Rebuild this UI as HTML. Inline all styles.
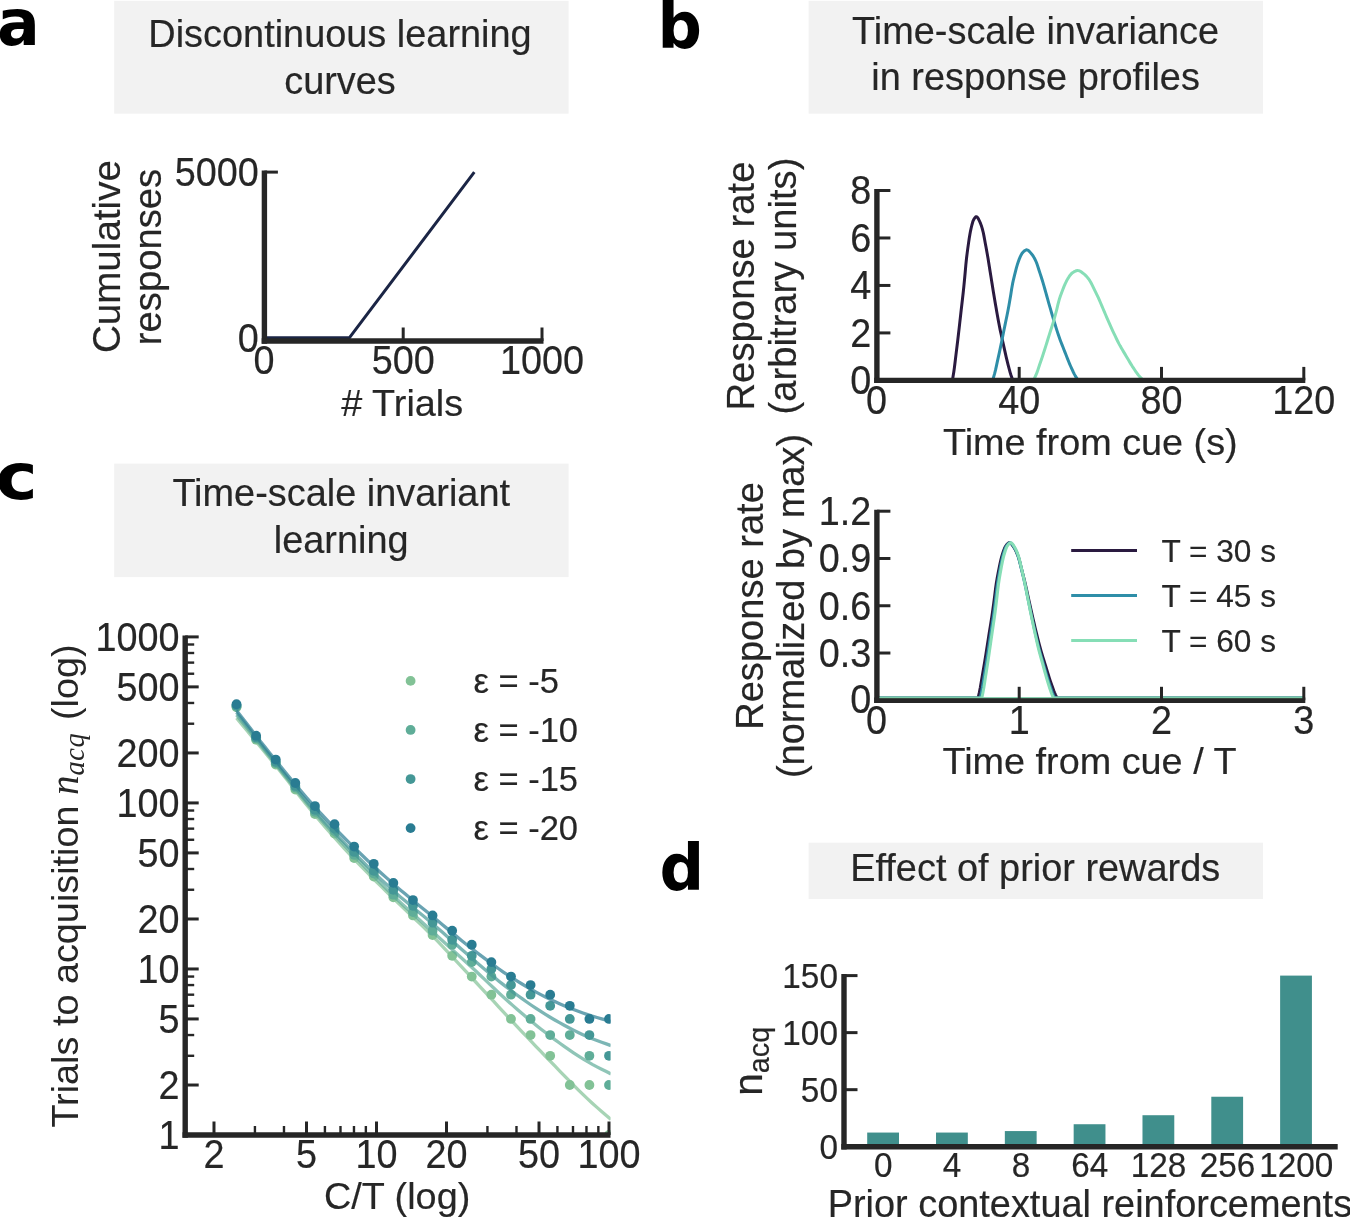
<!DOCTYPE html>
<html lang="en"><head><meta charset="utf-8"><title>Figure</title>
<style>html,body{margin:0;padding:0;background:#fff;}body{width:1350px;height:1218px;overflow:hidden;font-family:"Liberation Sans",sans-serif;}svg{display:block;font-family:"Liberation Sans",sans-serif;will-change:transform;}svg text{font-family:"Liberation Sans",sans-serif;}</style></head><body>
<svg width="1350" height="1218" viewBox="0 0 1350 1218">
<rect x="0" y="0" width="1350" height="1218" fill="#ffffff"/>
<text transform="translate(-2.9,45.2) scale(1,1.012)" font-size="63.5" font-weight="bold" text-anchor="start" fill="#000" style='font-family:"DejaVu Sans","Liberation Sans",sans-serif;'>a</text>
<text transform="translate(657.4,48.3) scale(1,1.023)" font-size="62.1" font-weight="bold" text-anchor="start" fill="#000" style='font-family:"DejaVu Sans","Liberation Sans",sans-serif;'>b</text>
<text transform="translate(-4.6,499.1) scale(1.115,1)" font-size="63.8" font-weight="bold" text-anchor="start" fill="#000" style='font-family:"DejaVu Sans","Liberation Sans",sans-serif;'>c</text>
<text transform="translate(659.5,890.1) scale(1,1.018)" font-size="62.4" font-weight="bold" text-anchor="start" fill="#000" style='font-family:"DejaVu Sans","Liberation Sans",sans-serif;'>d</text>
<rect x="114.2" y="0.8" width="454.4" height="112.9" fill="#f2f2f2"/>
<text x="340" y="46.7" font-size="37.9" text-anchor="middle" fill="#262626" stroke="#262626" stroke-width="0.18">Discontinuous learning</text>
<text x="340" y="93.8" font-size="37.9" text-anchor="middle" fill="#262626" stroke="#262626" stroke-width="0.18">curves</text>
<rect x="808.6" y="0.8" width="454.4" height="112.9" fill="#f2f2f2"/>
<text x="1035.6" y="43.5" font-size="37.9" text-anchor="middle" fill="#262626" stroke="#262626" stroke-width="0.18">Time-scale invariance</text>
<text x="1035.6" y="89.5" font-size="37.9" text-anchor="middle" fill="#262626" stroke="#262626" stroke-width="0.18">in response profiles</text>
<rect x="114.2" y="463.6" width="454.4" height="113.5" fill="#f2f2f2"/>
<text x="341.2" y="506.4" font-size="37.9" text-anchor="middle" fill="#262626" stroke="#262626" stroke-width="0.18">Time-scale invariant</text>
<text x="341.2" y="553" font-size="37.9" text-anchor="middle" fill="#262626" stroke="#262626" stroke-width="0.18">learning</text>
<rect x="808.6" y="842.7" width="454.4" height="56.3" fill="#f2f2f2"/>
<text x="1035.2" y="880.8" font-size="37.9" text-anchor="middle" fill="#262626" stroke="#262626" stroke-width="0.18">Effect of prior rewards</text>
<path d="M264.4,337.7 L349.5,337.7 L474.3,172.1" fill="none" stroke="#1b2545" stroke-width="3" stroke-linejoin="round" stroke-linecap="butt" stroke-linejoin="miter"/>
<line x1="264.4" y1="170.6" x2="264.4" y2="343.7" stroke="#262626" stroke-width="5.4" stroke-linecap="butt"/>
<line x1="261.7" y1="341" x2="543.5" y2="341" stroke="#262626" stroke-width="5.4" stroke-linecap="butt"/>
<line x1="264.4" y1="172.1" x2="277.9" y2="172.1" stroke="#262626" stroke-width="3" stroke-linecap="butt"/>
<text transform="translate(258.8,186.01) scale(1,1.07)" font-size="37.8" text-anchor="end" fill="#262626" stroke="#262626" stroke-width="0.18">5000</text>
<text transform="translate(258.8,352.21) scale(1,1.07)" font-size="37.8" text-anchor="end" fill="#262626" stroke="#262626" stroke-width="0.18">0</text>
<text transform="translate(264.1,374.3) scale(1,1.07)" font-size="37.8" text-anchor="middle" fill="#262626" stroke="#262626" stroke-width="0.18">0</text>
<line x1="403.2" y1="341" x2="403.2" y2="327.5" stroke="#262626" stroke-width="3" stroke-linecap="butt"/>
<text transform="translate(403.2,374.3) scale(1,1.07)" font-size="37.8" text-anchor="middle" fill="#262626" stroke="#262626" stroke-width="0.18">500</text>
<line x1="542" y1="341" x2="542" y2="327.5" stroke="#262626" stroke-width="3" stroke-linecap="butt"/>
<text transform="translate(542,374.3) scale(1,1.07)" font-size="37.8" text-anchor="middle" fill="#262626" stroke="#262626" stroke-width="0.18">1000</text>
<text x="402.2" y="415.6" font-size="37.8" text-anchor="middle" fill="#262626" stroke="#262626" stroke-width="0.18"># Trials</text>
<text transform="translate(119.9,256.6) rotate(-90)" font-size="38.6" text-anchor="middle" fill="#262626" stroke="#262626" stroke-width="0.18">Cumulative</text>
<text transform="translate(160.5,257) rotate(-90)" font-size="38.25" text-anchor="middle" fill="#262626" stroke="#262626" stroke-width="0.18">responses</text>
<clipPath id="clipB1"><rect x="876.9" y="185.5" width="428.9" height="194.9"/></clipPath>
<g clip-path="url(#clipB1)">
<path d="M952.41,380.4 L953.08,376.32 L953.75,372.17 L954.42,367.44 L955.1,361.99 L955.77,356.35 L956.44,350.93 L957.11,345.54 L957.78,340.01 L958.45,334.23 L959.13,328.32 L959.8,322.4 L960.47,316.47 L961.14,310.54 L961.81,304.71 L962.48,298.99 L963.16,293.04 L963.83,286.58 L964.5,279.73 L965.17,272.5 L965.84,264.8 L966.52,258.26 L967.19,252.83 L967.86,247.9 L968.53,243.09 L969.2,238.51 L969.87,234.5 L970.55,230.85 L971.22,227.77 L971.89,225.01 L972.56,222.53 L973.23,220.58 L973.9,219.29 L974.58,218.19 L975.25,217.29 L975.92,216.73 L976.59,216.65 L977.26,217.13 L977.94,218.07 L978.61,219.31 L979.28,220.7 L979.95,222.09 L980.62,223.66 L981.29,225.53 L981.97,227.66 L982.64,230.03 L983.31,232.74 L983.98,236.08 L984.65,239.78 L985.32,243.49 L986,247.07 L986.67,250.7 L987.34,254.43 L988.01,258.31 L988.68,262.41 L989.36,266.65 L990.03,270.91 L990.7,275.12 L991.37,279.36 L992.04,283.59 L992.71,287.78 L993.39,291.91 L994.06,295.97 L994.73,300 L995.4,303.96 L996.07,307.86 L996.75,311.69 L997.42,315.48 L998.09,319.21 L998.76,322.83 L999.43,326.29 L1000.1,329.58 L1000.78,332.72 L1001.45,335.76 L1002.12,338.75 L1002.79,341.74 L1003.46,344.76 L1004.13,347.82 L1004.81,350.88 L1005.48,353.91 L1006.15,356.85 L1006.82,359.68 L1007.49,362.41 L1008.17,365.1 L1008.84,367.72 L1009.51,370.22 L1010.18,372.57 L1010.85,374.74 L1011.52,376.69 L1012.2,378.54 L1012.87,380.4" fill="none" stroke="#2a1a40" stroke-width="3" stroke-linejoin="round" stroke-linecap="butt"/>
<path d="M992.64,380.4 L993.59,377.17 L994.54,373.88 L995.49,370.15 L996.44,365.84 L997.39,361.37 L998.34,357.07 L999.29,352.81 L1000.24,348.44 L1001.19,343.87 L1002.14,339.19 L1003.09,334.51 L1004.04,329.81 L1004.99,325.11 L1005.94,320.48 L1006.89,315.96 L1007.84,311.27 L1008.79,306.2 L1009.74,300.8 L1010.69,295.14 L1011.64,289.02 L1012.59,283.68 L1013.54,279.3 L1014.49,275.36 L1015.44,271.55 L1016.39,267.85 L1017.34,264.62 L1018.29,261.68 L1019.24,259.15 L1020.19,256.94 L1021.14,254.92 L1022.09,253.27 L1023.04,252.17 L1023.99,251.28 L1024.94,250.52 L1025.89,250.01 L1026.84,249.85 L1027.79,250.14 L1028.74,250.82 L1029.69,251.76 L1030.64,252.86 L1031.59,253.98 L1032.54,255.19 L1033.49,256.63 L1034.44,258.3 L1035.39,260.16 L1036.34,262.25 L1037.29,264.84 L1038.24,267.77 L1039.19,270.76 L1040.14,273.63 L1041.09,276.52 L1042.04,279.49 L1042.99,282.58 L1043.94,285.84 L1044.89,289.22 L1045.84,292.64 L1046.78,296.01 L1047.73,299.39 L1048.68,302.78 L1049.63,306.15 L1050.58,309.46 L1051.53,312.71 L1052.48,315.94 L1053.43,319.12 L1054.38,322.25 L1055.33,325.31 L1056.28,328.35 L1057.23,331.34 L1058.18,334.25 L1059.13,337.04 L1060.08,339.68 L1061.03,342.2 L1061.98,344.64 L1062.93,347.04 L1063.88,349.43 L1064.83,351.84 L1065.78,354.29 L1066.73,356.75 L1067.68,359.17 L1068.63,361.53 L1069.58,363.8 L1070.53,365.99 L1071.48,368.14 L1072.43,370.24 L1073.38,372.24 L1074.33,374.13 L1075.28,375.87 L1076.23,377.43 L1077.18,378.91 L1078.13,380.4" fill="none" stroke="#2e8ea8" stroke-width="3" stroke-linejoin="round" stroke-linecap="butt"/>
<path d="M1033.57,380.4 L1034.79,377.71 L1036.01,374.97 L1037.23,371.87 L1038.45,368.29 L1039.67,364.56 L1040.89,360.97 L1042.11,357.41 L1043.32,353.78 L1044.54,349.99 L1045.76,346.09 L1046.98,342.18 L1048.2,338.27 L1049.42,334.35 L1050.64,330.47 L1051.86,326.7 L1053.08,322.83 L1054.3,318.65 L1055.51,314.19 L1056.73,309.54 L1057.95,304.45 L1059.17,299.78 L1060.39,296.03 L1061.61,292.69 L1062.83,289.51 L1064.05,286.37 L1065.27,283.59 L1066.49,281.07 L1067.71,278.85 L1068.92,276.98 L1070.14,275.23 L1071.36,273.75 L1072.58,272.7 L1073.8,271.93 L1075.02,271.26 L1076.24,270.75 L1077.46,270.51 L1078.68,270.62 L1079.9,271.09 L1081.11,271.83 L1082.33,272.73 L1083.55,273.68 L1084.77,274.66 L1085.99,275.82 L1087.21,277.18 L1088.43,278.71 L1089.65,280.4 L1090.87,282.48 L1092.09,284.91 L1093.31,287.45 L1094.52,289.9 L1095.74,292.34 L1096.96,294.84 L1098.18,297.42 L1099.4,300.15 L1100.62,303 L1101.84,305.89 L1103.06,308.75 L1104.28,311.62 L1105.5,314.49 L1106.71,317.35 L1107.93,320.16 L1109.15,322.93 L1110.37,325.67 L1111.59,328.37 L1112.81,331.03 L1114.03,333.63 L1115.25,336.21 L1116.47,338.75 L1117.69,341.23 L1118.9,343.6 L1120.12,345.86 L1121.34,348 L1122.56,350.08 L1123.78,352.11 L1125,354.13 L1126.22,356.18 L1127.44,358.25 L1128.66,360.33 L1129.88,362.38 L1131.1,364.39 L1132.31,366.32 L1133.53,368.17 L1134.75,370 L1135.97,371.78 L1137.19,373.48 L1138.41,375.08 L1139.63,376.56 L1140.85,377.88 L1142.07,379.14 L1143.29,380.4" fill="none" stroke="#86deb6" stroke-width="3" stroke-linejoin="round" stroke-linecap="butt"/>
</g>
<line x1="876.9" y1="189" x2="876.9" y2="383.1" stroke="#262626" stroke-width="5.4" stroke-linecap="butt"/>
<line x1="874.2" y1="380.4" x2="1305.3" y2="380.4" stroke="#262626" stroke-width="5.4" stroke-linecap="butt"/>
<line x1="876.9" y1="332.92" x2="890.4" y2="332.92" stroke="#262626" stroke-width="3" stroke-linecap="butt"/>
<text transform="translate(871.3,346.84) scale(1,1.07)" font-size="37.8" text-anchor="end" fill="#262626" stroke="#262626" stroke-width="0.18">2</text>
<line x1="876.9" y1="285.45" x2="890.4" y2="285.45" stroke="#262626" stroke-width="3" stroke-linecap="butt"/>
<text transform="translate(871.3,299.36) scale(1,1.07)" font-size="37.8" text-anchor="end" fill="#262626" stroke="#262626" stroke-width="0.18">4</text>
<line x1="876.9" y1="237.97" x2="890.4" y2="237.97" stroke="#262626" stroke-width="3" stroke-linecap="butt"/>
<text transform="translate(871.3,251.89) scale(1,1.07)" font-size="37.8" text-anchor="end" fill="#262626" stroke="#262626" stroke-width="0.18">6</text>
<line x1="876.9" y1="190.5" x2="890.4" y2="190.5" stroke="#262626" stroke-width="3" stroke-linecap="butt"/>
<text transform="translate(871.3,204.41) scale(1,1.07)" font-size="37.8" text-anchor="end" fill="#262626" stroke="#262626" stroke-width="0.18">8</text>
<text transform="translate(871.3,393.91) scale(1,1.07)" font-size="37.8" text-anchor="end" fill="#262626" stroke="#262626" stroke-width="0.18">0</text>
<line x1="1019.2" y1="380.4" x2="1019.2" y2="366.9" stroke="#262626" stroke-width="3" stroke-linecap="butt"/>
<text transform="translate(1019.2,413.7) scale(1,1.07)" font-size="37.8" text-anchor="middle" fill="#262626" stroke="#262626" stroke-width="0.18">40</text>
<line x1="1161.5" y1="380.4" x2="1161.5" y2="366.9" stroke="#262626" stroke-width="3" stroke-linecap="butt"/>
<text transform="translate(1161.5,413.7) scale(1,1.07)" font-size="37.8" text-anchor="middle" fill="#262626" stroke="#262626" stroke-width="0.18">80</text>
<line x1="1303.8" y1="380.4" x2="1303.8" y2="366.9" stroke="#262626" stroke-width="3" stroke-linecap="butt"/>
<text transform="translate(1303.8,413.7) scale(1,1.07)" font-size="37.8" text-anchor="middle" fill="#262626" stroke="#262626" stroke-width="0.18">120</text>
<text transform="translate(876.6,413.7) scale(1,1.07)" font-size="37.8" text-anchor="middle" fill="#262626" stroke="#262626" stroke-width="0.18">0</text>
<text x="1090.35" y="454.7" font-size="37.8" text-anchor="middle" fill="#262626" stroke="#262626" stroke-width="0.18">Time from cue (s)</text>
<text transform="translate(754,286) rotate(-90)" font-size="38.3" text-anchor="middle" fill="#262626" stroke="#262626" stroke-width="0.18">Response rate</text>
<text transform="translate(795.5,286) rotate(-90)" font-size="38.2" text-anchor="middle" fill="#262626" stroke="#262626" stroke-width="0.18">(arbitrary units)</text>
<clipPath id="clipB2"><rect x="876.9" y="506.2" width="428.9" height="194.1"/></clipPath>
<g clip-path="url(#clipB2)">
<path d="M876.9,698.1 L976.58,698.1 L977.58,698.1 L978.47,696.38 L979.37,692.38 L980.26,687.83 L981.16,682.59 L982.06,677.16 L982.95,671.94 L983.85,666.76 L984.74,661.44 L985.64,655.88 L986.53,650.19 L987.43,644.5 L988.33,638.79 L989.22,633.09 L990.12,627.48 L991.01,621.98 L991.91,616.25 L992.8,610.03 L993.7,603.44 L994.6,596.49 L995.49,589.08 L996.39,582.78 L997.28,577.56 L998.18,572.82 L999.07,568.2 L999.97,563.78 L1000.87,559.93 L1001.76,556.42 L1002.66,553.45 L1003.55,550.8 L1004.45,548.41 L1005.34,546.53 L1006.24,545.3 L1007.14,544.23 L1008.03,543.37 L1008.93,542.83 L1009.82,542.75 L1010.72,543.22 L1011.61,544.12 L1012.51,545.31 L1013.41,546.65 L1014.3,547.99 L1015.2,549.5 L1016.09,551.3 L1016.99,553.35 L1017.88,555.63 L1018.78,558.23 L1019.68,561.45 L1020.57,565.01 L1021.47,568.58 L1022.36,572.02 L1023.26,575.51 L1024.15,579.1 L1025.05,582.84 L1025.95,586.78 L1026.84,590.86 L1027.74,594.96 L1028.63,599.01 L1029.53,603.08 L1030.42,607.16 L1031.32,611.19 L1032.21,615.16 L1033.11,619.07 L1034.01,622.94 L1034.9,626.76 L1035.8,630.51 L1036.69,634.19 L1037.59,637.84 L1038.48,641.42 L1039.38,644.91 L1040.28,648.24 L1041.17,651.4 L1042.07,654.43 L1042.96,657.35 L1043.86,660.23 L1044.75,663.1 L1045.65,666.01 L1046.55,668.95 L1047.44,671.9 L1048.34,674.81 L1049.23,677.64 L1050.13,680.37 L1051.02,683 L1051.92,685.58 L1052.82,688.1 L1053.71,690.5 L1054.61,692.77 L1055.5,694.85 L1056.4,696.73 L1057.29,698.1 L1058.19,698.1 L1059.19,698.1 L1303.8,698.1" fill="none" stroke="#2a1a40" stroke-width="3" stroke-linejoin="round" stroke-linecap="butt"/>
<path d="M876.9,698.1 L978.78,698.1 L979.78,698.1 L980.63,696.4 L981.47,692.43 L982.32,687.92 L983.16,682.73 L984,677.33 L984.85,672.14 L985.69,667 L986.54,661.72 L987.38,656.21 L988.23,650.56 L989.07,644.9 L989.91,639.24 L990.76,633.57 L991.6,627.98 L992.45,622.52 L993.29,616.86 L994.14,610.74 L994.98,604.23 L995.82,597.39 L996.67,590.01 L997.51,583.55 L998.36,578.27 L999.2,573.51 L1000.05,568.92 L1000.89,564.45 L1001.74,560.56 L1002.58,557 L1003.42,553.95 L1004.27,551.29 L1005.11,548.84 L1005.96,546.86 L1006.8,545.53 L1007.65,544.45 L1008.49,543.54 L1009.33,542.92 L1010.18,542.72 L1011.02,543.07 L1011.87,543.89 L1012.71,545.03 L1013.56,546.36 L1014.4,547.71 L1015.24,549.16 L1016.09,550.91 L1016.93,552.92 L1017.78,555.17 L1018.62,557.69 L1019.47,560.82 L1020.31,564.36 L1021.15,567.96 L1022,571.43 L1022.84,574.92 L1023.69,578.5 L1024.53,582.23 L1025.38,586.16 L1026.22,590.25 L1027.06,594.37 L1027.91,598.44 L1028.75,602.52 L1029.6,606.61 L1030.44,610.67 L1031.29,614.67 L1032.13,618.6 L1032.97,622.49 L1033.82,626.34 L1034.66,630.11 L1035.51,633.81 L1036.35,637.48 L1037.2,641.09 L1038.04,644.6 L1038.88,647.96 L1039.73,651.15 L1040.57,654.2 L1041.42,657.14 L1042.26,660.03 L1043.11,662.92 L1043.95,665.83 L1044.8,668.79 L1045.64,671.75 L1046.48,674.67 L1047.33,677.52 L1048.17,680.26 L1049.02,682.91 L1049.86,685.51 L1050.71,688.03 L1051.55,690.45 L1052.39,692.73 L1053.24,694.83 L1054.08,696.72 L1054.93,698.1 L1055.77,698.1 L1056.77,698.1 L1303.8,698.1" fill="none" stroke="#2e8ea8" stroke-width="3" stroke-linejoin="round" stroke-linecap="butt"/>
<path d="M876.9,698.1 L980.35,698.1 L981.35,698.1 L982.16,696.44 L982.97,692.51 L983.79,688.06 L984.6,682.93 L985.41,677.59 L986.22,672.44 L987.04,667.34 L987.85,662.13 L988.66,656.69 L989.48,651.1 L990.29,645.5 L991.1,639.89 L991.91,634.27 L992.73,628.72 L993.54,623.3 L994.35,617.75 L995.16,611.76 L995.98,605.36 L996.79,598.69 L997.6,591.4 L998.41,584.71 L999.23,579.32 L1000.04,574.53 L1000.85,569.98 L1001.67,565.47 L1002.48,561.5 L1003.29,557.88 L1004.1,554.7 L1004.92,552.01 L1005.73,549.51 L1006.54,547.38 L1007.35,545.87 L1008.17,544.78 L1008.98,543.81 L1009.79,543.08 L1010.61,542.73 L1011.42,542.89 L1012.23,543.57 L1013.04,544.63 L1013.86,545.92 L1014.67,547.29 L1015.48,548.68 L1016.29,550.35 L1017.11,552.3 L1017.92,554.5 L1018.73,556.92 L1019.54,559.9 L1020.36,563.38 L1021.17,567.02 L1021.98,570.53 L1022.8,574.04 L1023.61,577.62 L1024.42,581.33 L1025.23,585.23 L1026.05,589.32 L1026.86,593.47 L1027.67,597.57 L1028.48,601.68 L1029.3,605.8 L1030.11,609.89 L1030.92,613.93 L1031.74,617.89 L1032.55,621.82 L1033.36,625.7 L1034.17,629.51 L1034.99,633.24 L1035.8,636.94 L1036.61,640.58 L1037.42,644.13 L1038.24,647.54 L1039.05,650.77 L1039.86,653.85 L1040.67,656.82 L1041.49,659.74 L1042.3,662.64 L1043.11,665.57 L1043.93,668.54 L1044.74,671.52 L1045.55,674.47 L1046.36,677.34 L1047.18,680.11 L1047.99,682.77 L1048.8,685.39 L1049.61,687.94 L1050.43,690.38 L1051.24,692.67 L1052.05,694.79 L1052.87,696.69 L1053.68,698.1 L1054.49,698.1 L1055.49,698.1 L1303.8,698.1" fill="none" stroke="#86deb6" stroke-width="3" stroke-linejoin="round" stroke-linecap="butt"/>
</g>
<line x1="876.9" y1="509.7" x2="876.9" y2="703" stroke="#262626" stroke-width="5.4" stroke-linecap="butt"/>
<line x1="874.2" y1="700.3" x2="1305.3" y2="700.3" stroke="#262626" stroke-width="5.4" stroke-linecap="butt"/>
<line x1="879.5" y1="697.7" x2="1304.8" y2="697.7" stroke="#86deb6" stroke-width="1" stroke-linecap="butt"/>
<line x1="876.9" y1="653.02" x2="890.4" y2="653.02" stroke="#262626" stroke-width="3" stroke-linecap="butt"/>
<text transform="translate(871.3,666.94) scale(1,1.07)" font-size="37.8" text-anchor="end" fill="#262626" stroke="#262626" stroke-width="0.18">0.3</text>
<line x1="876.9" y1="605.75" x2="890.4" y2="605.75" stroke="#262626" stroke-width="3" stroke-linecap="butt"/>
<text transform="translate(871.3,619.66) scale(1,1.07)" font-size="37.8" text-anchor="end" fill="#262626" stroke="#262626" stroke-width="0.18">0.6</text>
<line x1="876.9" y1="558.47" x2="890.4" y2="558.47" stroke="#262626" stroke-width="3" stroke-linecap="butt"/>
<text transform="translate(871.3,572.39) scale(1,1.07)" font-size="37.8" text-anchor="end" fill="#262626" stroke="#262626" stroke-width="0.18">0.9</text>
<line x1="876.9" y1="511.2" x2="890.4" y2="511.2" stroke="#262626" stroke-width="3" stroke-linecap="butt"/>
<text transform="translate(871.3,525.11) scale(1,1.07)" font-size="37.8" text-anchor="end" fill="#262626" stroke="#262626" stroke-width="0.18">1.2</text>
<text transform="translate(871.3,713.01) scale(1,1.07)" font-size="37.8" text-anchor="end" fill="#262626" stroke="#262626" stroke-width="0.18">0</text>
<line x1="1019.2" y1="700.3" x2="1019.2" y2="686.8" stroke="#262626" stroke-width="3" stroke-linecap="butt"/>
<text transform="translate(1019.2,733.6) scale(1,1.07)" font-size="37.8" text-anchor="middle" fill="#262626" stroke="#262626" stroke-width="0.18">1</text>
<line x1="1161.5" y1="700.3" x2="1161.5" y2="686.8" stroke="#262626" stroke-width="3" stroke-linecap="butt"/>
<text transform="translate(1161.5,733.6) scale(1,1.07)" font-size="37.8" text-anchor="middle" fill="#262626" stroke="#262626" stroke-width="0.18">2</text>
<line x1="1303.8" y1="700.3" x2="1303.8" y2="686.8" stroke="#262626" stroke-width="3" stroke-linecap="butt"/>
<text transform="translate(1303.8,733.6) scale(1,1.07)" font-size="37.8" text-anchor="middle" fill="#262626" stroke="#262626" stroke-width="0.18">3</text>
<text transform="translate(876.6,733.6) scale(1,1.07)" font-size="37.8" text-anchor="middle" fill="#262626" stroke="#262626" stroke-width="0.18">0</text>
<text x="1089.55" y="774.3" font-size="37.8" text-anchor="middle" fill="#262626" stroke="#262626" stroke-width="0.18">Time from cue / T</text>
<text transform="translate(762.5,606) rotate(-90)" font-size="38.1" text-anchor="middle" fill="#262626" stroke="#262626" stroke-width="0.18">Response rate</text>
<text transform="translate(804.2,606) rotate(-90)" font-size="38" text-anchor="middle" fill="#262626" stroke="#262626" stroke-width="0.18">(normalized by max)</text>
<line x1="1071.2" y1="550.4" x2="1137" y2="550.4" stroke="#2a1a40" stroke-width="3" stroke-linecap="butt"/>
<text x="1161.5" y="561.9" font-size="31.6" text-anchor="start" fill="#262626" stroke="#262626" stroke-width="0.18">T = 30 s</text>
<line x1="1071.2" y1="595.4" x2="1137" y2="595.4" stroke="#2e8ea8" stroke-width="3" stroke-linecap="butt"/>
<text x="1161.5" y="606.9" font-size="31.6" text-anchor="start" fill="#262626" stroke="#262626" stroke-width="0.18">T = 45 s</text>
<line x1="1071.2" y1="640.4" x2="1137" y2="640.4" stroke="#86deb6" stroke-width="3" stroke-linecap="butt"/>
<text x="1161.5" y="651.9" font-size="31.6" text-anchor="start" fill="#262626" stroke="#262626" stroke-width="0.18">T = 60 s</text>
<clipPath id="clipC"><rect x="185.2" y="630.9" width="425.4" height="504.1"/></clipPath>
<g clip-path="url(#clipC)">
<path d="M236.52,718 L241.2,723.67 L245.88,729.31 L250.56,734.96 L255.24,740.6 L259.93,746.25 L264.61,751.93 L269.29,757.63 L273.97,763.38 L278.65,769.19 L283.33,775.11 L288.01,781.1 L292.69,787.13 L297.37,793.15 L302.05,799.13 L306.74,805.02 L311.42,810.79 L316.1,816.4 L320.78,821.91 L325.46,827.35 L330.14,832.71 L334.82,838 L339.5,843.21 L344.18,848.36 L348.86,853.43 L353.55,858.43 L358.23,863.35 L362.91,868.18 L367.59,872.93 L372.27,877.61 L376.95,882.25 L381.63,886.86 L386.31,891.45 L390.99,896.03 L395.67,900.61 L400.36,905.13 L405.04,909.58 L409.72,914.01 L414.4,918.43 L419.08,922.88 L423.76,927.38 L428.44,931.96 L433.12,936.64 L437.8,941.44 L442.48,946.32 L447.17,951.28 L451.85,956.29 L456.53,961.33 L461.21,966.39 L465.89,971.45 L470.57,976.48 L475.25,981.5 L479.93,986.54 L484.61,991.6 L489.29,996.66 L493.98,1001.73 L498.66,1006.79 L503.34,1011.83 L508.02,1016.84 L512.7,1021.83 L517.38,1026.8 L522.06,1031.76 L526.74,1036.71 L531.42,1041.65 L536.1,1046.56 L540.79,1051.45 L545.47,1056.31 L550.15,1061.13 L554.83,1065.95 L559.51,1070.78 L564.19,1075.61 L568.87,1080.4 L573.55,1085.14 L578.23,1089.82 L582.91,1094.4 L587.6,1098.88 L592.28,1103.21 L596.96,1107.38 L601.64,1111.45 L606.32,1115.49 L611,1119.56" fill="none" stroke="#82c296" stroke-width="3.3" stroke-linejoin="round" stroke-linecap="butt" stroke-opacity="0.7"/>
<g fill="#82c296"><circle cx="236.52" cy="707.24" r="4.9"/><circle cx="256.13" cy="739.72" r="4.9"/><circle cx="275.73" cy="764.55" r="4.9"/><circle cx="295.33" cy="789.52" r="4.9"/><circle cx="314.94" cy="814.03" r="4.9"/><circle cx="334.54" cy="833.66" r="4.9"/><circle cx="354.15" cy="858.07" r="4.9"/><circle cx="373.75" cy="876.6" r="4.9"/><circle cx="393.35" cy="897.35" r="4.9"/><circle cx="412.96" cy="915.47" r="4.9"/><circle cx="432.56" cy="935.08" r="4.9"/><circle cx="452.17" cy="955.82" r="4.9"/><circle cx="471.77" cy="976.56" r="4.9"/><circle cx="491.38" cy="994.69" r="4.9"/><circle cx="510.98" cy="1018.95" r="4.9"/><circle cx="530.58" cy="1035.04" r="4.9"/><circle cx="550.19" cy="1055.78" r="4.9"/><circle cx="569.79" cy="1085.02" r="4.9"/><circle cx="589.4" cy="1085.02" r="4.9"/><circle cx="609" cy="1135" r="4.9"/></g>
<path d="M236.52,715 L241.2,720.86 L245.88,726.72 L250.56,732.59 L255.24,738.45 L259.93,744.31 L264.61,750.17 L269.29,756.02 L273.97,761.86 L278.65,767.71 L283.33,773.61 L288.01,779.53 L292.69,785.46 L297.37,791.35 L302.05,797.19 L306.74,802.94 L311.42,808.58 L316.1,814.08 L320.78,819.45 L325.46,824.74 L330.14,829.95 L334.82,835.08 L339.5,840.16 L344.18,845.19 L348.86,850.17 L353.55,855.13 L358.23,860.07 L362.91,864.98 L367.59,869.85 L372.27,874.68 L376.95,879.45 L381.63,884.18 L386.31,888.84 L390.99,893.43 L395.67,897.95 L400.36,902.38 L405.04,906.73 L409.72,911.03 L414.4,915.28 L419.08,919.5 L423.76,923.73 L428.44,927.96 L433.12,932.22 L437.8,936.48 L442.48,940.72 L447.17,944.96 L451.85,949.19 L456.53,953.42 L461.21,957.67 L465.89,961.93 L470.57,966.22 L475.25,970.55 L479.93,974.94 L484.61,979.39 L489.29,983.84 L493.98,988.29 L498.66,992.69 L503.34,997.02 L508.02,1001.26 L512.7,1005.37 L517.38,1009.44 L522.06,1013.46 L526.74,1017.43 L531.42,1021.34 L536.1,1025.17 L540.79,1028.92 L545.47,1032.57 L550.15,1036.11 L554.83,1039.57 L559.51,1042.98 L564.19,1046.33 L568.87,1049.6 L573.55,1052.79 L578.23,1055.87 L582.91,1058.84 L587.6,1061.68 L592.28,1064.36 L596.96,1066.85 L601.64,1069.21 L606.32,1071.55 L611,1073.92" fill="none" stroke="#5fad98" stroke-width="3.3" stroke-linejoin="round" stroke-linecap="butt" stroke-opacity="0.7"/>
<g fill="#5fad98"><circle cx="236.52" cy="706.24" r="4.9"/><circle cx="256.13" cy="738.42" r="4.9"/><circle cx="275.73" cy="763.05" r="4.9"/><circle cx="295.33" cy="787.52" r="4.9"/><circle cx="314.94" cy="811.73" r="4.9"/><circle cx="334.54" cy="831.06" r="4.9"/><circle cx="354.15" cy="854.77" r="4.9"/><circle cx="373.75" cy="873.47" r="4.9"/><circle cx="393.35" cy="894.72" r="4.9"/><circle cx="412.96" cy="912.11" r="4.9"/><circle cx="432.56" cy="930.7" r="4.9"/><circle cx="452.17" cy="944.7" r="4.9"/><circle cx="471.77" cy="962.09" r="4.9"/><circle cx="491.38" cy="976.56" r="4.9"/><circle cx="510.98" cy="994.69" r="4.9"/><circle cx="530.58" cy="1018.95" r="4.9"/><circle cx="550.19" cy="1035.04" r="4.9"/><circle cx="569.79" cy="1035.04" r="4.9"/><circle cx="589.4" cy="1055.78" r="4.9"/><circle cx="609" cy="1085.02" r="4.9"/></g>
<path d="M236.52,712.5 L241.2,718.51 L245.88,724.55 L250.56,730.6 L255.24,736.64 L259.93,742.67 L264.61,748.67 L269.29,754.63 L273.97,760.55 L278.65,766.42 L283.33,772.29 L288.01,778.15 L292.69,783.99 L297.37,789.78 L302.05,795.5 L306.74,801.13 L311.42,806.65 L316.1,812.05 L320.78,817.35 L325.46,822.57 L330.14,827.71 L334.82,832.78 L339.5,837.77 L344.18,842.7 L348.86,847.56 L353.55,852.36 L358.23,857.1 L362.91,861.79 L367.59,866.43 L372.27,871.01 L376.95,875.52 L381.63,879.97 L386.31,884.33 L390.99,888.62 L395.67,892.81 L400.36,896.88 L405.04,900.85 L409.72,904.74 L414.4,908.59 L419.08,912.42 L423.76,916.28 L428.44,920.18 L433.12,924.17 L437.8,928.23 L442.48,932.35 L447.17,936.51 L451.85,940.68 L456.53,944.85 L461.21,948.99 L465.89,953.1 L470.57,957.14 L475.25,961.14 L479.93,965.15 L484.61,969.15 L489.29,973.12 L493.98,977.04 L498.66,980.9 L503.34,984.66 L508.02,988.3 L512.7,991.83 L517.38,995.28 L522.06,998.68 L526.74,1002.01 L531.42,1005.26 L536.1,1008.42 L540.79,1011.48 L545.47,1014.43 L550.15,1017.25 L554.83,1019.98 L559.51,1022.63 L564.19,1025.22 L568.87,1027.73 L573.55,1030.14 L578.23,1032.46 L582.91,1034.68 L587.6,1036.78 L592.28,1038.75 L596.96,1040.56 L601.64,1042.26 L606.32,1043.92 L611,1045.63" fill="none" stroke="#449796" stroke-width="3.3" stroke-linejoin="round" stroke-linecap="butt" stroke-opacity="0.7"/>
<g fill="#449796"><circle cx="236.52" cy="705.44" r="4.9"/><circle cx="256.13" cy="737.42" r="4.9"/><circle cx="275.73" cy="761.75" r="4.9"/><circle cx="295.33" cy="785.92" r="4.9"/><circle cx="314.94" cy="809.73" r="4.9"/><circle cx="334.54" cy="828.66" r="4.9"/><circle cx="354.15" cy="851.97" r="4.9"/><circle cx="373.75" cy="870.83" r="4.9"/><circle cx="393.35" cy="889.75" r="4.9"/><circle cx="412.96" cy="905.84" r="4.9"/><circle cx="432.56" cy="922.68" r="4.9"/><circle cx="452.17" cy="939.73" r="4.9"/><circle cx="471.77" cy="955.82" r="4.9"/><circle cx="491.38" cy="968.97" r="4.9"/><circle cx="510.98" cy="985.06" r="4.9"/><circle cx="530.58" cy="994.69" r="4.9"/><circle cx="550.19" cy="1005.8" r="4.9"/><circle cx="569.79" cy="1018.95" r="4.9"/><circle cx="589.4" cy="1035.04" r="4.9"/><circle cx="609" cy="1055.78" r="4.9"/></g>
<path d="M236.52,710.5 L241.2,716.5 L245.88,722.53 L250.56,728.58 L255.24,734.63 L259.93,740.65 L264.61,746.63 L269.29,752.54 L273.97,758.38 L278.65,764.14 L283.33,769.88 L288.01,775.58 L292.69,781.24 L297.37,786.83 L302.05,792.35 L306.74,797.78 L311.42,803.1 L316.1,808.31 L320.78,813.41 L325.46,818.42 L330.14,823.35 L334.82,828.21 L339.5,833 L344.18,837.72 L348.86,842.38 L353.55,846.98 L358.23,851.53 L362.91,856.03 L367.59,860.46 L372.27,864.84 L376.95,869.17 L381.63,873.43 L386.31,877.64 L390.99,881.8 L395.67,885.9 L400.36,889.91 L405.04,893.86 L409.72,897.75 L414.4,901.61 L419.08,905.43 L423.76,909.25 L428.44,913.08 L433.12,916.93 L437.8,920.81 L442.48,924.71 L447.17,928.62 L451.85,932.51 L456.53,936.37 L461.21,940.19 L465.89,943.94 L470.57,947.62 L475.25,951.23 L479.93,954.83 L484.61,958.41 L489.29,961.93 L493.98,965.4 L498.66,968.77 L503.34,972.04 L508.02,975.19 L512.7,978.21 L517.38,981.15 L522.06,984.02 L526.74,986.82 L531.42,989.54 L536.1,992.16 L540.79,994.67 L545.47,997.08 L550.15,999.36 L554.83,1001.54 L559.51,1003.65 L564.19,1005.69 L568.87,1007.65 L573.55,1009.53 L578.23,1011.33 L582.91,1013.04 L587.6,1014.66 L592.28,1016.17 L596.96,1017.54 L601.64,1018.82 L606.32,1020.08 L611,1021.37" fill="none" stroke="#297c92" stroke-width="3.3" stroke-linejoin="round" stroke-linecap="butt" stroke-opacity="0.7"/>
<g fill="#297c92"><circle cx="236.52" cy="704.24" r="4.9"/><circle cx="256.13" cy="735.72" r="4.9"/><circle cx="275.73" cy="759.55" r="4.9"/><circle cx="295.33" cy="783.02" r="4.9"/><circle cx="314.94" cy="806.03" r="4.9"/><circle cx="334.54" cy="824.16" r="4.9"/><circle cx="354.15" cy="846.57" r="4.9"/><circle cx="373.75" cy="863.79" r="4.9"/><circle cx="393.35" cy="882.88" r="4.9"/><circle cx="412.96" cy="900.07" r="4.9"/><circle cx="432.56" cy="915.47" r="4.9"/><circle cx="452.17" cy="930.7" r="4.9"/><circle cx="471.77" cy="944.7" r="4.9"/><circle cx="491.38" cy="962.09" r="4.9"/><circle cx="510.98" cy="976.56" r="4.9"/><circle cx="530.58" cy="985.06" r="4.9"/><circle cx="550.19" cy="994.69" r="4.9"/><circle cx="569.79" cy="1005.8" r="4.9"/><circle cx="589.4" cy="1018.95" r="4.9"/><circle cx="609" cy="1018.95" r="4.9"/></g>
</g>
<line x1="185.2" y1="635.4" x2="185.2" y2="1137.7" stroke="#262626" stroke-width="5.4" stroke-linecap="butt"/>
<line x1="182.5" y1="1135" x2="610.5" y2="1135" stroke="#262626" stroke-width="5.4" stroke-linecap="butt"/>
<text transform="translate(179.6,1148.71) scale(1,1.07)" font-size="37.8" text-anchor="end" fill="#262626" stroke="#262626" stroke-width="0.18">1</text>
<line x1="185.2" y1="1085.02" x2="198.7" y2="1085.02" stroke="#262626" stroke-width="3" stroke-linecap="butt"/>
<text transform="translate(179.6,1098.93) scale(1,1.07)" font-size="37.8" text-anchor="end" fill="#262626" stroke="#262626" stroke-width="0.18">2</text>
<line x1="185.2" y1="1055.78" x2="194.2" y2="1055.78" stroke="#262626" stroke-width="2.4" stroke-linecap="butt"/>
<line x1="185.2" y1="1035.04" x2="194.2" y2="1035.04" stroke="#262626" stroke-width="2.4" stroke-linecap="butt"/>
<line x1="185.2" y1="1018.95" x2="198.7" y2="1018.95" stroke="#262626" stroke-width="3" stroke-linecap="butt"/>
<text transform="translate(179.6,1032.86) scale(1,1.07)" font-size="37.8" text-anchor="end" fill="#262626" stroke="#262626" stroke-width="0.18">5</text>
<line x1="185.2" y1="1005.8" x2="194.2" y2="1005.8" stroke="#262626" stroke-width="2.4" stroke-linecap="butt"/>
<line x1="185.2" y1="994.69" x2="194.2" y2="994.69" stroke="#262626" stroke-width="2.4" stroke-linecap="butt"/>
<line x1="185.2" y1="985.06" x2="194.2" y2="985.06" stroke="#262626" stroke-width="2.4" stroke-linecap="butt"/>
<line x1="185.2" y1="976.56" x2="194.2" y2="976.56" stroke="#262626" stroke-width="2.4" stroke-linecap="butt"/>
<line x1="185.2" y1="968.97" x2="198.7" y2="968.97" stroke="#262626" stroke-width="3" stroke-linecap="butt"/>
<text transform="translate(179.6,982.88) scale(1,1.07)" font-size="37.8" text-anchor="end" fill="#262626" stroke="#262626" stroke-width="0.18">10</text>
<line x1="185.2" y1="918.99" x2="198.7" y2="918.99" stroke="#262626" stroke-width="3" stroke-linecap="butt"/>
<text transform="translate(179.6,932.9) scale(1,1.07)" font-size="37.8" text-anchor="end" fill="#262626" stroke="#262626" stroke-width="0.18">20</text>
<line x1="185.2" y1="889.75" x2="194.2" y2="889.75" stroke="#262626" stroke-width="2.4" stroke-linecap="butt"/>
<line x1="185.2" y1="869" x2="194.2" y2="869" stroke="#262626" stroke-width="2.4" stroke-linecap="butt"/>
<line x1="185.2" y1="852.91" x2="198.7" y2="852.91" stroke="#262626" stroke-width="3" stroke-linecap="butt"/>
<text transform="translate(179.6,866.83) scale(1,1.07)" font-size="37.8" text-anchor="end" fill="#262626" stroke="#262626" stroke-width="0.18">50</text>
<line x1="185.2" y1="839.77" x2="194.2" y2="839.77" stroke="#262626" stroke-width="2.4" stroke-linecap="butt"/>
<line x1="185.2" y1="828.65" x2="194.2" y2="828.65" stroke="#262626" stroke-width="2.4" stroke-linecap="butt"/>
<line x1="185.2" y1="819.02" x2="194.2" y2="819.02" stroke="#262626" stroke-width="2.4" stroke-linecap="butt"/>
<line x1="185.2" y1="810.53" x2="194.2" y2="810.53" stroke="#262626" stroke-width="2.4" stroke-linecap="butt"/>
<line x1="185.2" y1="802.93" x2="198.7" y2="802.93" stroke="#262626" stroke-width="3" stroke-linecap="butt"/>
<text transform="translate(179.6,816.85) scale(1,1.07)" font-size="37.8" text-anchor="end" fill="#262626" stroke="#262626" stroke-width="0.18">100</text>
<line x1="185.2" y1="752.95" x2="198.7" y2="752.95" stroke="#262626" stroke-width="3" stroke-linecap="butt"/>
<text transform="translate(179.6,766.87) scale(1,1.07)" font-size="37.8" text-anchor="end" fill="#262626" stroke="#262626" stroke-width="0.18">200</text>
<line x1="185.2" y1="723.72" x2="194.2" y2="723.72" stroke="#262626" stroke-width="2.4" stroke-linecap="butt"/>
<line x1="185.2" y1="702.97" x2="194.2" y2="702.97" stroke="#262626" stroke-width="2.4" stroke-linecap="butt"/>
<line x1="185.2" y1="686.88" x2="198.7" y2="686.88" stroke="#262626" stroke-width="3" stroke-linecap="butt"/>
<text transform="translate(179.6,700.79) scale(1,1.07)" font-size="37.8" text-anchor="end" fill="#262626" stroke="#262626" stroke-width="0.18">500</text>
<line x1="185.2" y1="673.73" x2="194.2" y2="673.73" stroke="#262626" stroke-width="2.4" stroke-linecap="butt"/>
<line x1="185.2" y1="662.62" x2="194.2" y2="662.62" stroke="#262626" stroke-width="2.4" stroke-linecap="butt"/>
<line x1="185.2" y1="652.99" x2="194.2" y2="652.99" stroke="#262626" stroke-width="2.4" stroke-linecap="butt"/>
<line x1="185.2" y1="644.5" x2="194.2" y2="644.5" stroke="#262626" stroke-width="2.4" stroke-linecap="butt"/>
<line x1="185.2" y1="636.9" x2="198.7" y2="636.9" stroke="#262626" stroke-width="3" stroke-linecap="butt"/>
<text transform="translate(179.6,650.81) scale(1,1.07)" font-size="37.8" text-anchor="end" fill="#262626" stroke="#262626" stroke-width="0.18">1000</text>
<line x1="213.99" y1="1135" x2="213.99" y2="1121.5" stroke="#262626" stroke-width="3" stroke-linecap="butt"/>
<text transform="translate(213.99,1168.3) scale(1,1.07)" font-size="37.8" text-anchor="middle" fill="#262626" stroke="#262626" stroke-width="0.18">2</text>
<line x1="254.93" y1="1135" x2="254.93" y2="1126" stroke="#262626" stroke-width="2.4" stroke-linecap="butt"/>
<line x1="283.98" y1="1135" x2="283.98" y2="1126" stroke="#262626" stroke-width="2.4" stroke-linecap="butt"/>
<line x1="306.51" y1="1135" x2="306.51" y2="1121.5" stroke="#262626" stroke-width="3" stroke-linecap="butt"/>
<text transform="translate(306.51,1168.3) scale(1,1.07)" font-size="37.8" text-anchor="middle" fill="#262626" stroke="#262626" stroke-width="0.18">5</text>
<line x1="324.92" y1="1135" x2="324.92" y2="1126" stroke="#262626" stroke-width="2.4" stroke-linecap="butt"/>
<line x1="340.49" y1="1135" x2="340.49" y2="1126" stroke="#262626" stroke-width="2.4" stroke-linecap="butt"/>
<line x1="353.97" y1="1135" x2="353.97" y2="1126" stroke="#262626" stroke-width="2.4" stroke-linecap="butt"/>
<line x1="365.86" y1="1135" x2="365.86" y2="1126" stroke="#262626" stroke-width="2.4" stroke-linecap="butt"/>
<line x1="376.5" y1="1135" x2="376.5" y2="1121.5" stroke="#262626" stroke-width="3" stroke-linecap="butt"/>
<text transform="translate(376.5,1168.3) scale(1,1.07)" font-size="37.8" text-anchor="middle" fill="#262626" stroke="#262626" stroke-width="0.18">10</text>
<line x1="446.49" y1="1135" x2="446.49" y2="1121.5" stroke="#262626" stroke-width="3" stroke-linecap="butt"/>
<text transform="translate(446.49,1168.3) scale(1,1.07)" font-size="37.8" text-anchor="middle" fill="#262626" stroke="#262626" stroke-width="0.18">20</text>
<line x1="487.43" y1="1135" x2="487.43" y2="1126" stroke="#262626" stroke-width="2.4" stroke-linecap="butt"/>
<line x1="516.48" y1="1135" x2="516.48" y2="1126" stroke="#262626" stroke-width="2.4" stroke-linecap="butt"/>
<line x1="539.01" y1="1135" x2="539.01" y2="1121.5" stroke="#262626" stroke-width="3" stroke-linecap="butt"/>
<text transform="translate(539.01,1168.3) scale(1,1.07)" font-size="37.8" text-anchor="middle" fill="#262626" stroke="#262626" stroke-width="0.18">50</text>
<line x1="557.42" y1="1135" x2="557.42" y2="1126" stroke="#262626" stroke-width="2.4" stroke-linecap="butt"/>
<line x1="572.99" y1="1135" x2="572.99" y2="1126" stroke="#262626" stroke-width="2.4" stroke-linecap="butt"/>
<line x1="586.47" y1="1135" x2="586.47" y2="1126" stroke="#262626" stroke-width="2.4" stroke-linecap="butt"/>
<line x1="598.36" y1="1135" x2="598.36" y2="1126" stroke="#262626" stroke-width="2.4" stroke-linecap="butt"/>
<line x1="609" y1="1135" x2="609" y2="1121.5" stroke="#262626" stroke-width="3" stroke-linecap="butt"/>
<text transform="translate(609,1168.3) scale(1,1.07)" font-size="37.8" text-anchor="middle" fill="#262626" stroke="#262626" stroke-width="0.18">100</text>
<text x="397.1" y="1209.4" font-size="37.8" text-anchor="middle" fill="#262626" stroke="#262626" stroke-width="0.18">C/T (log)</text>
<text transform="translate(78.2,886) rotate(-90)" font-size="37.8" text-anchor="middle" fill="#262626">Trials to acquisition <tspan font-family='"Liberation Serif", serif' font-style="italic" font-size="39">n</tspan><tspan font-family='"Liberation Serif", serif' font-style="italic" font-size="28.5" dy="6" letter-spacing="0.6">acq</tspan><tspan dy="-6" dx="2"> (log)</tspan></text>
<circle cx="410.6" cy="680.9" r="4.9" fill="#82c296"/>
<text x="473.5" y="692.8" font-size="34.5" text-anchor="start" fill="#262626" stroke="#262626" stroke-width="0.18">ε = -5</text>
<circle cx="410.6" cy="729.97" r="4.9" fill="#5fad98"/>
<text x="473.5" y="741.87" font-size="34.5" text-anchor="start" fill="#262626" stroke="#262626" stroke-width="0.18">ε = -10</text>
<circle cx="410.6" cy="779.04" r="4.9" fill="#449796"/>
<text x="473.5" y="790.94" font-size="34.5" text-anchor="start" fill="#262626" stroke="#262626" stroke-width="0.18">ε = -15</text>
<circle cx="410.6" cy="828.11" r="4.9" fill="#297c92"/>
<text x="473.5" y="840.01" font-size="34.5" text-anchor="start" fill="#262626" stroke="#262626" stroke-width="0.18">ε = -20</text>
<rect x="867.2" y="1132.56" width="31.8" height="14.14" fill="#408f8c"/>
<text transform="translate(883.3,1176.6) scale(1,1.07)" font-size="33.3" text-anchor="middle" fill="#262626" stroke="#262626" stroke-width="0.18">0</text>
<rect x="936.02" y="1132.56" width="31.8" height="14.14" fill="#408f8c"/>
<text transform="translate(952.12,1176.6) scale(1,1.07)" font-size="33.3" text-anchor="middle" fill="#262626" stroke="#262626" stroke-width="0.18">4</text>
<rect x="1004.84" y="1131.07" width="31.8" height="15.63" fill="#408f8c"/>
<text transform="translate(1020.94,1176.6) scale(1,1.07)" font-size="33.3" text-anchor="middle" fill="#262626" stroke="#262626" stroke-width="0.18">8</text>
<rect x="1073.66" y="1124.23" width="31.8" height="22.47" fill="#408f8c"/>
<text transform="translate(1089.76,1176.6) scale(1,1.07)" font-size="33.3" text-anchor="middle" fill="#262626" stroke="#262626" stroke-width="0.18">64</text>
<rect x="1142.48" y="1115.22" width="31.8" height="31.48" fill="#408f8c"/>
<text transform="translate(1158.58,1176.6) scale(1,1.07)" font-size="33.3" text-anchor="middle" fill="#262626" stroke="#262626" stroke-width="0.18">128</text>
<rect x="1211.3" y="1096.74" width="31.8" height="49.96" fill="#408f8c"/>
<text transform="translate(1227.4,1176.6) scale(1,1.07)" font-size="33.3" text-anchor="middle" fill="#262626" stroke="#262626" stroke-width="0.18">256</text>
<rect x="1280.12" y="975.6" width="31.8" height="171.1" fill="#408f8c"/>
<text transform="translate(1296.22,1176.6) scale(1,1.07)" font-size="33.3" text-anchor="middle" fill="#262626" stroke="#262626" stroke-width="0.18">1200</text>
<line x1="844" y1="974.1" x2="844" y2="1149.4" stroke="#262626" stroke-width="5.4" stroke-linecap="butt"/>
<line x1="841.3" y1="1146.7" x2="1337.7" y2="1146.7" stroke="#262626" stroke-width="5.4" stroke-linecap="butt"/>
<line x1="844" y1="1089.67" x2="857.5" y2="1089.67" stroke="#262626" stroke-width="3" stroke-linecap="butt"/>
<text transform="translate(837.9,1101.92) scale(1,1.07)" font-size="33.3" text-anchor="end" fill="#262626" stroke="#262626" stroke-width="0.18">50</text>
<line x1="844" y1="1032.63" x2="857.5" y2="1032.63" stroke="#262626" stroke-width="3" stroke-linecap="butt"/>
<text transform="translate(837.9,1044.89) scale(1,1.07)" font-size="33.3" text-anchor="end" fill="#262626" stroke="#262626" stroke-width="0.18">100</text>
<line x1="844" y1="975.6" x2="857.5" y2="975.6" stroke="#262626" stroke-width="3" stroke-linecap="butt"/>
<text transform="translate(837.9,987.86) scale(1,1.07)" font-size="33.3" text-anchor="end" fill="#262626" stroke="#262626" stroke-width="0.18">150</text>
<text transform="translate(837.9,1159.36) scale(1,1.07)" font-size="33.3" text-anchor="end" fill="#262626" stroke="#262626" stroke-width="0.18">0</text>
<text x="1089.9" y="1216.8" font-size="37.9" text-anchor="middle" fill="#262626" stroke="#262626" stroke-width="0.18">Prior contextual reinforcements</text>
<text transform="translate(762.4,1061.2) rotate(-90)" font-size="40.5" text-anchor="middle" fill="#262626" stroke="#262626" stroke-width="0.18">n<tspan font-size="28.8" dy="6.6">acq</tspan></text>
</svg></body></html>
